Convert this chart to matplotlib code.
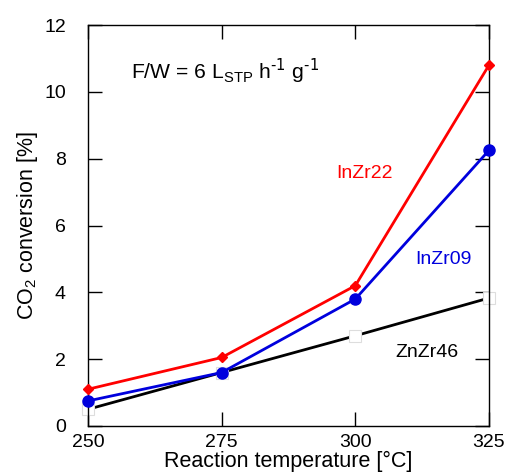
import numpy as np
import matplotlib.pyplot as plt

plt.rcParams['font.family'] = ['Liberation Sans', 'DejaVu Sans']

# reaction temperature [°C]
temps = [250, 275, 300, 325]
# CO2 conversion [%]
inzr22 = [1.1, 2.05, 4.2, 10.8]
inzr09 = [0.75, 1.6, 3.8, 8.25]
znzr46 = [0.5, 1.6, 2.7, 3.83]

fig = plt.figure(figsize=(5.07, 4.74), dpi=100)
ax = fig.add_axes([88/507, 48/474, 401/507, 401/474])

ax.plot(temps, znzr46, color='black', lw=2, marker='s', ms=8,
        mfc='white', mec='#dddddd', mew=0.8, zorder=2, clip_on=False)
ax.plot(temps, inzr09, color='#0000dd', lw=2, marker='o', ms=8, zorder=3,
        clip_on=False)
ax.plot(temps, inzr22, color='#ff0000', lw=2, marker='D', ms=5, zorder=4,
        clip_on=False)

ax.text(301.8, 7.55, 'InZr22', color='#ff0000', fontsize=14, ha='center', va='center')
ax.text(316.4, 4.97, 'InZr09', color='#0000dd', fontsize=14, ha='center', va='center')
ax.text(313.4, 2.2, 'ZnZr46', color='black', fontsize=14, ha='center', va='center')
ax.text(258, 10.6, r'F/W = 6 L$_\mathregular{STP}$ h$^\text{-1}$ g$^\text{-1}$',
        fontsize=15.2, ha='left', va='center')

ax.set_xlim(250, 325)
ax.set_ylim(0, 12)
ax.set_xticks([250, 275, 300, 325])
ax.set_yticks([0, 2, 4, 6, 8, 10, 12])
ax.tick_params(direction='in', length=10, width=1, top=True, right=True,
               labelsize=14)
ax.tick_params(axis='x', pad=6)
ax.tick_params(axis='y', pad=16)
ax.set_xlabel('Reaction temperature [°C]', fontsize=15.5, labelpad=0)
ax.set_ylabel('CO$_\\mathregular{2}$ conversion [%]', fontsize=15.5, labelpad=3)
for s in ax.spines.values():
    s.set_linewidth(1)

fig.savefig('out.png', dpi=100)
